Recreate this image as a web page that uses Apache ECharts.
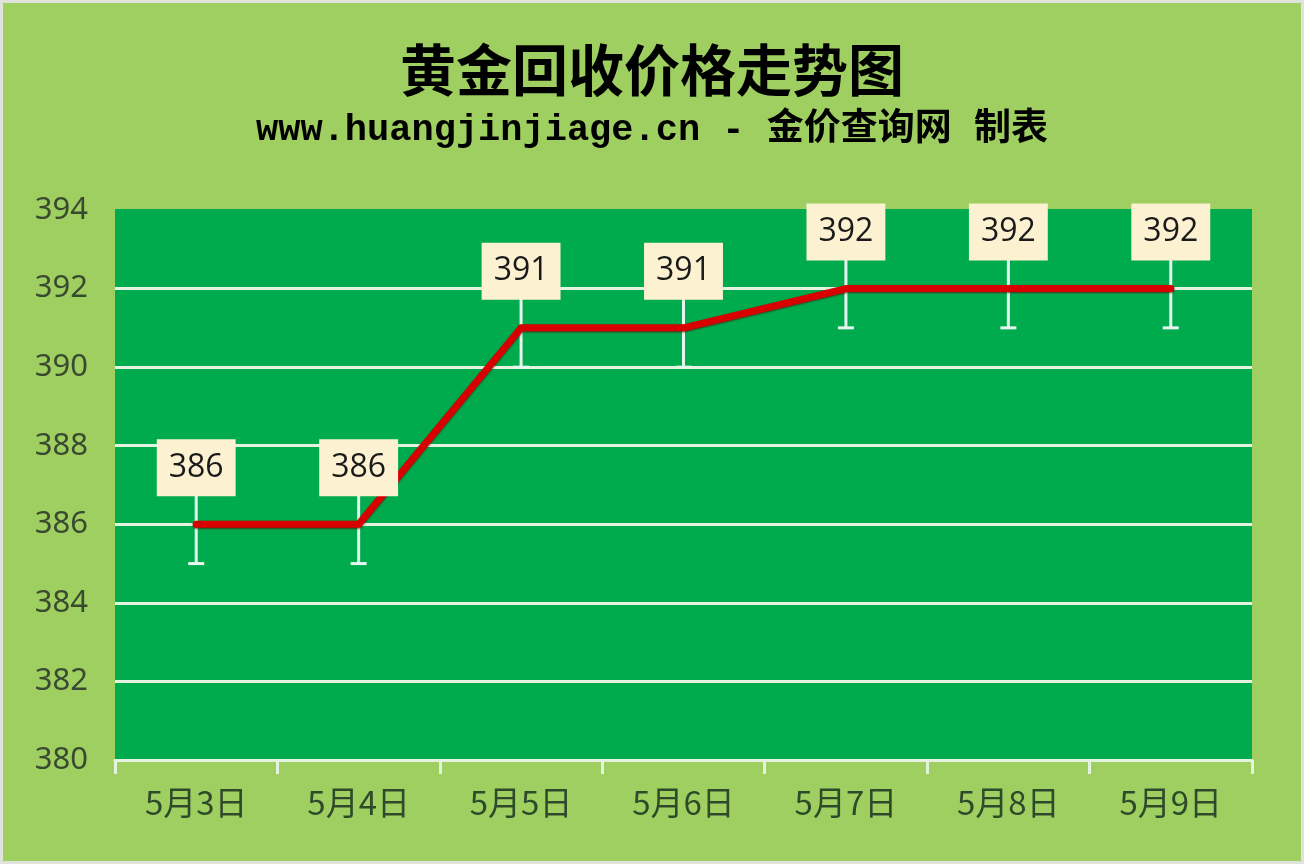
<!DOCTYPE html>
<html>
<head>
<meta charset="utf-8">
<script src="https://cdn.jsdelivr.net/npm/echarts@6/dist/echarts.min.js"></script>
<style>
  html, body { margin: 0; padding: 0; background: #e4e6e2; }
  #chart {
    width: 1304px; height: 864px; box-sizing: border-box;
    border: 3px solid #dfe3dc; background: #9fcf60;
  }
</style>
</head>
<body>
<div id="chart"></div>
<script>
// Data
const dates = ['5月3日', '5月4日', '5月5日', '5月6日', '5月7日', '5月8日', '5月9日'];
const prices = [386, 386, 391, 391, 392, 392, 392];
const errorMinus = [1, 1, 1, 1, 1, 1, 1];
const errorPlus = [1, 1, 1, 1, 1, 1, 1];
const yTicks = { min: 380, max: 394, interval: 2 };

const chart = echarts.init(document.getElementById('chart'));

// error bars: vertical stem with caps
function renderErrorBar(params, api) {
    const i = api.value(0);
    const low = api.coord([i, api.value(1)]);
    const high = api.coord([i, api.value(2)]);
    const capW = 8;
    const style = { stroke: '#e6f6ee', lineWidth: 3 };
    return {
        type: 'group',
        children: [
            { type: 'line', shape: { x1: low[0], y1: low[1], x2: high[0], y2: high[1] }, style: style },
            { type: 'line', shape: { x1: low[0] - capW, y1: low[1], x2: low[0] + capW, y2: low[1] }, style: style },
            { type: 'line', shape: { x1: high[0] - capW, y1: high[1], x2: high[0] + capW, y2: high[1] }, style: style }
        ]
    };
}

const errorData = prices.map((p, i) => [i, p - errorMinus[i], p + errorPlus[i]]);

chart.setOption({
    animation: false,
    title: [
        {
            text: '黄金回收价格走势图',
            left: 'center', top: 34,
            textStyle: { fontFamily: 'Noto Sans CJK SC', fontWeight: 'bold', fontSize: 56, color: '#000' }
        },
        {
            text: 'www.huangjinjiage.cn - 金价查询网 制表',
            left: 'center', top: 104,
            textStyle: { fontFamily: '"Liberation Mono", "Noto Sans CJK SC"', fontWeight: 'bold', fontSize: 37, color: '#000' }
        }
    ],
    grid: {
        left: 112, right: 49, top: 207, bottom: 101,
        show: true, backgroundColor: '#00ab4e', borderWidth: 0
    },
    xAxis: {
        type: 'category',
        data: dates,
        boundaryGap: true,
        axisLine: { lineStyle: { color: '#e3f3df', width: 3 } },
        axisTick: { show: true, length: 14, lineStyle: { color: '#e3f3df', width: 3 } },
        axisLabel: { fontFamily: 'Noto Sans CJK SC', fontSize: 33, color: '#2f4a2a', margin: 26 }
    },
    yAxis: {
        type: 'value',
        min: yTicks.min, max: yTicks.max, interval: yTicks.interval,
        axisLine: { show: false },
        axisTick: { show: false },
        axisLabel: { fontFamily: 'Noto Sans', fontSize: 31, color: '#3a4a30', margin: 27 },
        splitLine: {
            lineStyle: {
                color: ['#e3f3df', '#e3f3df', '#e3f3df', '#e3f3df', '#e3f3df', '#e3f3df', '#e3f3df', '#00ab4e'],
                width: 3
            }
        }
    },
    series: [
        {
            type: 'custom',
            renderItem: renderErrorBar,
            data: errorData,
            encode: { x: 0, y: [1, 2] },
            z: 2
        },
        {
            type: 'line',
            data: prices,
            symbol: 'circle',
            symbolSize: 2,
            showSymbol: true,
            itemStyle: { color: '#d80000' },
            z: 3,
            lineStyle: {
                color: '#d80000', width: 7, cap: 'round', join: 'round',
                shadowColor: 'rgba(90,0,0,0.7)', shadowBlur: 2, shadowOffsetY: 1
            },
            label: {
                show: true,
                position: 'top',
                distance: 27,
                fontFamily: 'Open Sans',
                fontSize: 32,
                color: '#1a1a1a',
                backgroundColor: '#fcf2d2',
                padding: [9, 12, 9, 12],
                lineHeight: 39
            }
        }
    ]
});
</script>
</body>
</html>
